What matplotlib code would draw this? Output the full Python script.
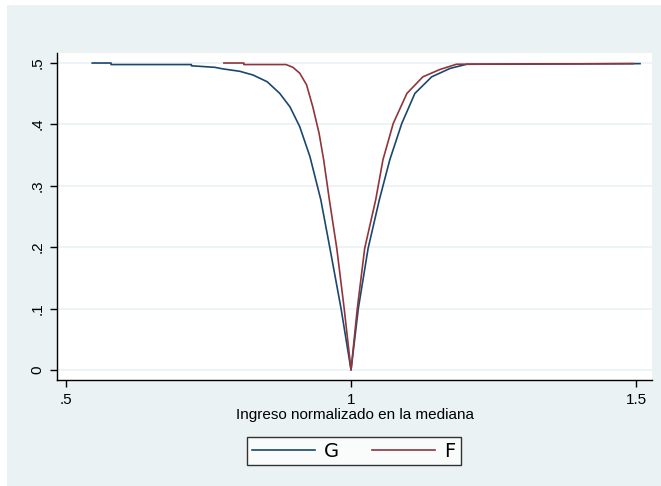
import matplotlib
matplotlib.use("Agg")
import matplotlib.pyplot as plt
from matplotlib.patches import Rectangle
from matplotlib.lines import Line2D

# ---- data ----
g_x = [0.546, 0.579, 0.579, 0.720, 0.720, 0.761, 0.775, 0.805, 0.828, 0.853,
       0.875, 0.893, 0.910, 0.928, 0.947, 0.963, 0.9825, 1.000, 1.0128, 1.030,
       1.0497, 1.068, 1.089, 1.112, 1.1415, 1.1737, 1.203, 1.507]
g_y = [0.4995, 0.4995, 0.497, 0.497, 0.495, 0.4925, 0.490, 0.486, 0.480, 0.469,
       0.450, 0.428, 0.396, 0.347, 0.277, 0.198, 0.100, 0.000, 0.100, 0.198,
       0.277, 0.342, 0.401, 0.450, 0.477, 0.4907, 0.4975, 0.4985]

f_x = [0.777, 0.812, 0.812, 0.886, 0.898, 0.910, 0.922, 0.933, 0.944, 0.952,
       0.962, 0.975, 0.988, 1.000, 1.011, 1.024, 1.0433, 1.056, 1.074, 1.098,
       1.126, 1.156, 1.185, 1.495]
f_y = [0.4995, 0.4995, 0.497, 0.497, 0.4925, 0.483, 0.464, 0.428, 0.385, 0.342,
       0.277, 0.198, 0.100, 0.000, 0.100, 0.198, 0.277, 0.342, 0.401, 0.450,
       0.477, 0.489, 0.4975, 0.4985]

x_ticks = [0.5, 1.0, 1.5]
x_ticklabels = [".5", "1", "1.5"]
y_ticks = [0.0, 0.1, 0.2, 0.3, 0.4, 0.5]
y_ticklabels = ["0", ".1", ".2", ".3", ".4", ".5"]
x_label = "Ingreso normalizado en la mediana"
series_names = ["G", "F"]

# ---- style ----
W, H = 661, 486
BG = "#EAF2F3"
C_G = "#1a476f"
C_F = "#90353b"
plt.rcParams["font.family"] = ["Liberation Sans", "DejaVu Sans"]

fig = plt.figure(figsize=(W / 100, H / 100), dpi=100)
fig.patch.set_facecolor("white")
fig.add_artist(Rectangle((7 / W, 0), 1 - 7 / W, 1 - 5 / H, transform=fig.transFigure,
                         facecolor=BG, edgecolor="none", zorder=0))

ax = fig.add_axes([57 / W, (H - 380) / H, (652 - 57) / W, (380 - 53) / H])
ax.set_facecolor("white")
ax.set_xlim(0.4842, 1.528)
ax.set_ylim(-0.0163, 0.5158)

for s in ["top", "right"]:
    ax.spines[s].set_visible(False)
for s in ["left", "bottom"]:
    ax.spines[s].set_color("black")
    ax.spines[s].set_linewidth(1.0)

ax.set_xticks(x_ticks)
ax.set_xticklabels(x_ticklabels, fontsize=11)
ax.set_yticks(y_ticks)
ax.set_yticklabels(y_ticklabels, fontsize=11, rotation=90, va="center")
ax.tick_params(direction="out", length=5, width=1, color="black", pad=4)
ax.grid(axis="y", color=BG, linewidth=1.2)
ax.set_axisbelow(True)
ax.set_xlabel(x_label, fontsize=11, labelpad=1)

ax.plot(g_x, g_y, color=C_G, linewidth=1.2, zorder=3)
ax.plot(f_x, f_y, color=C_F, linewidth=1.2, zorder=4)

handles = [Line2D([], [], color=C_G, linewidth=1.2),
           Line2D([], [], color=C_F, linewidth=1.2)]
leg = fig.legend(handles, series_names, loc="center",
                 bbox_to_anchor=(354 / W, (H - 451) / H), ncol=2,
                 frameon=True, fancybox=False, handlelength=3.2,
                 columnspacing=1.7, handletextpad=0.5, borderpad=0.25,
                 borderaxespad=0.0,
                 prop={"family": "DejaVu Sans", "size": 14})
leg.get_frame().set_edgecolor("black")
leg.get_frame().set_linewidth(1.0)
leg.get_frame().set_facecolor("white")

fig.savefig("out.png", dpi=100, facecolor=fig.get_facecolor())
